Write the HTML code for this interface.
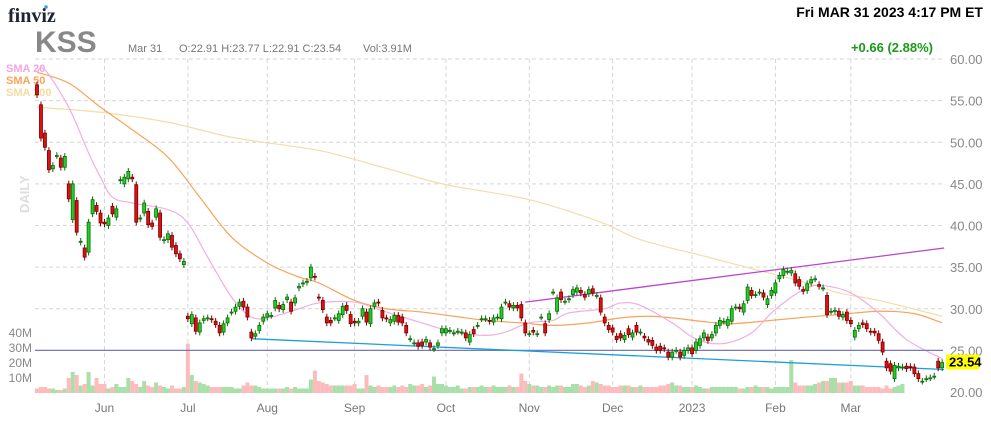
<!DOCTYPE html>
<html><head><meta charset="utf-8"><style>
html,body{margin:0;padding:0;background:#fff;width:991px;height:422px;overflow:hidden;font-family:"Liberation Sans",sans-serif}
svg{position:absolute;left:0;top:0}
</style></head><body>
<svg id="chart" width="991" height="422" viewBox="0 0 991 422">
  <text x="8" y="22" font-family="Liberation Serif" font-weight="bold" font-size="20" fill="#1f2433">finviz</text>
  <circle cx="46" cy="7" r="1.8" fill="#3aa0e8"/>
  <text x="983" y="17" text-anchor="end" font-weight="bold" font-size="14" fill="#000">Fri MAR 31 2023 4:17 PM ET</text>
  <text x="35" y="52" font-weight="bold" font-size="30" fill="#888">KSS</text>
  <text x="128" y="52" font-size="11" fill="#777">Mar 31</text>
  <text x="179" y="52" font-size="11" fill="#777">O:22.91  H:23.77  L:22.91  C:23.54</text>
  <text x="363" y="52" font-size="11" fill="#777">Vol:3.91M</text>
  <text x="933" y="52" text-anchor="end" font-weight="bold" font-size="13" fill="#1a9a1a">+0.66 (2.88%)</text>
  <text x="6" y="72" font-weight="bold" font-size="11" fill="#f4a6e0">SMA 20</text>
  <text x="6" y="84" font-weight="bold" font-size="11" fill="#f9a35a">SMA 50</text>
  <text x="6" y="96" font-weight="bold" font-size="11" fill="#f4dba0">SMA 200</text>
  <text transform="translate(29,213) rotate(-90)" font-weight="bold" font-size="13" fill="#ddd">DAILY</text>
  <g id="grid"></g><g id="vol"></g><g id="smas"></g><g id="lines"></g><g id="candles"></g><g id="axes"></g>
</svg>
<script>
const opens=[56.9,54.5,51.1,49,46.8,48.4,48.1,47,45,40.7,43,38,37.3,36.8,41.4,42.4,41.5,40.4,40,42.3,41,45.4,45,45.6,45.8,44.9,40.8,41.5,41.7,40.3,41,41.5,38.2,38.3,38.8,37.6,36.6,35.3,
29.1,28.2,28.9,27.2,28.6,28.9,28.8,28.5,28,27.2,28.3,29.6,29.7,30.3,30.9,30.2,27.2,26.7,27.4,28.5,29,29.2,30.1,30.4,29.9,31.1,30.8,30.7,32.5,33,33.2,33.7,33.9,31.4,31,29,28.6,28.9,28.6,29.3,30.4,29.3,28.5,28.3,29.1,29.6,28.2,30.3,30.8,29.8,28.9,28.3,28.5,29.2,29,28,26.4,25.9,25.9,26,26,25.9,25.2,25.6,
27.1,27.1,27.4,27.1,27.3,27.2,27.1,26,27.5,28,28.8,28.8,28.6,28.4,29,28.8,30.8,30.6,30.1,30.4,30.5,
28.3,27,27.4,27,29,28.2,28.7,32,29.7,32,30.9,31.1,31.7,32,32.2,31.7,31.8,32.4,31.6,
31.3,29,28,27.7,26.7,27,26.3,27.6,26.6,28,27.2,26.7,26.3,26.2,25.4,25.5,25.3,24.8,24.2,25,24.8,24.4,25,25.3,25,25.6,26.5,26.6,26.5,27.1,28,28.5,28,28.5,30.2,30.2,29.6,31,32.2,31.7,32,31.9,30.5,31.6,31.9,33.6,34,34.5,34.3,34.2,33.5,32.3,32.2,33.1,33.6,32.9,32.5,
31.6,29.7,29.7,29.7,29,29.6,28.6,26.6,27.6,28.3,28.2,27.3,27.3,27,26,23.7,23.4,21.6,22.9,23,23.1,23.05,23,22.2,21.3,21.6,21.7,21.9,23.7,22.91];
const closes=[55.7,50.5,49.4,46.7,47.2,48.4,47,48.3,43.2,45,39.2,38.1,36.2,40.4,43.1,41.7,40.3,40.2,40.9,41.4,42,45.5,45.8,46.5,45.6,40.4,40.9,42.7,40.1,39.9,42,38.6,38.3,39,37.4,36.6,36,35.7,
28.8,29.3,27.3,28.3,28.8,28.9,28.7,28.1,27.1,28.2,28.9,29.6,30.2,30.8,30.2,29,26.5,27,28,29,29.4,29.2,31,30,30.5,31.4,29.7,31.3,32.7,33.1,33.3,35,33.8,31.3,29.9,28.3,28.3,28.9,29.4,30.3,29.8,28.2,28.3,28.5,30,28.4,30,30.7,30.7,28.9,28.8,28.7,29.2,28.4,28.3,27.1,26.4,25.9,25.5,25.6,26.3,25.4,25.2,25.9,
27.6,27.6,27.4,27.1,27.3,27.2,26.5,26.9,27,28,28.8,28.8,28.5,28.9,29,30.2,30.8,30.2,30.4,30.1,28.9,
27.1,27,27.2,27,29,27.1,29.4,32,31.3,31.1,30.9,31.2,32.3,32.5,31.9,31.4,32.3,31.9,31.6,
29.6,28.3,27.5,27.2,26.3,26.5,26.8,26.9,27.1,27.2,27.2,26.5,26,25.6,25,25,25.2,24.2,24.8,25,24.2,25,25.3,24.6,26,26.4,27.1,26.2,26.9,28,28.6,28.5,28.7,30,30.2,30,30.6,32.6,31.6,31.7,32,31.4,31.2,32.2,33.1,34,34.7,34.5,34.6,33.1,32.7,32.1,33,33.5,33.6,32.7,32.5,
29.3,29.7,29.8,29.1,29.3,28.6,28.2,27.4,28,28.1,27.6,27.2,27.1,26.2,24.8,22.9,22.5,23.2,23.1,23,22.8,22.95,22.2,21.6,21.3,21.6,21.7,21.9,22.9,23.54];
const volumes=[3,4,4,3,3,2,2,3,10,14,12,5,6,14,5,10,6,6,3,4,6,4,4,10,8,6,4,8,5,4,7,5,4,3,5,3,3,4,33,12,
8,7,6,5,4,4,4,4,4,4,3,3,5,7,5,5,4,3,3,3,3,3,3,4,3,4,3,3,3,9,15,8,7,6,5,5,5,5,5,5,
6,3,3,12,5,4,5,4,4,4,5,4,5,4,6,5,5,6,4,5,11,6,6,5,4,4,5,3,3,4,4,4,5,4,4,5,4,4,4,5,
4,4,13,8,6,5,5,4,4,5,4,5,5,4,4,6,6,5,4,5,8,7,6,5,5,4,4,5,5,5,4,4,5,4,4,4,4,5,5,6,
7,5,5,4,4,4,5,4,3,3,4,4,4,4,4,4,4,3,3,4,4,5,4,4,4,3,4,4,4,4,22,7,5,5,5,5,6,7,8,8,
10,10,7,7,7,8,5,5,5,4,4,4,4,3,5,3,4,5,6];
const sma20Idx=[0,2,8,13,16,19,24,33,38,43,49,54,59,66,71,80,88,97,105,113,118,122,125,130,134,143,147,152,160,165,169,174,180,185,190,194,198,205,212,219,228];
const sma20Val=[58.4,58.7,54.2,48.7,45.8,43.4,42.7,41.9,40.3,36.2,31.4,29,29,30,30.7,30.8,29.6,28.3,27.2,26.8,27.2,28,28.4,28.6,29.5,30,30.7,30.4,28.3,26.6,25.9,25.9,27.1,29.5,31.4,32.5,32.8,31.9,29.5,26.3,24.0];
const sma50Idx=[0,8,16,24,33,41,49,58,66,71,80,88,97,105,113,122,130,139,147,154,160,169,175,185,194,202,212,221,228];
const sma50Val=[58.4,57.1,54.2,51.5,48.2,43.4,38.6,35.5,33.8,33.1,31,30,29.6,29.1,28.6,28.3,28,28.3,28.9,29.1,28.9,28.4,28.2,28.6,29,29.3,29.7,29.4,28.3];
const sma200Idx=[0,16,33,49,66,74,90,103,124,142,152,169,181,194,202,212,228];
const sma200Val=[54.2,53.6,52.4,50.6,49.4,48.7,46.6,44.9,43.1,40.4,38.3,36.2,34.7,33.1,31.9,31,29.1];
const priceTicks=[60,55,50,45,40,35,30,25,20];
const volTicks=[40,30,20,10];
const monthLabels=['Jun','Jul','Aug','Sep','Oct','Nov','Dec','2023','Feb','Mar'];
const monthIdx=[17,38,58,80,103,124,145,165,186,205];
const resistStart=[123,30.8], resistEnd=[228.5,37.3];
const supportStart=[54,26.4], supportEnd=[228.5,22.7];
const hLevel=25;

const NS='http://www.w3.org/2000/svg';
const X=i=>37+i*3.97;
const Y=p=>59+(60-p)*8.325;
const VY=v=>393-v*1.5;
function mk(parent,tag,attrs){const e=document.createElementNS(NS,tag);for(const k in attrs)e.setAttribute(k,attrs[k]);document.getElementById(parent).appendChild(e);return e;}

priceTicks.forEach(p=>{
  if(p!==hLevel&&p!==20){const g=mk('grid','line',{x1:35,x2:943,y1:Y(p),y2:Y(p),stroke:'#d6d6d6','stroke-dasharray':'4,3'});
  
  }
  const t=mk('axes','text',{x:950,y:Y(p)+5,'font-size':13,fill:'#888'});t.textContent=p.toFixed(2);
  
  
});
monthIdx.forEach((m,k)=>{
  const g=mk('grid','line',{x1:X(m),x2:X(m),y1:59,y2:395,stroke:'#d6d6d6','stroke-dasharray':'4,3'});
  
  
  const t=mk('axes','text',{x:X(m),y:412,'font-size':12,fill:'#777','text-anchor':'middle'});t.textContent=monthLabels[k];
  
  
});
volTicks.forEach(v=>{
  const t=mk('axes','text',{x:32,y:VY(v)+4,'font-size':12,fill:'#888','text-anchor':'end'});t.textContent=v+'M';
  
  
});
volumes.forEach((v,i)=>{
  const up=closes[i]>=opens[i];
  const r=mk('vol','rect',{x:X(i)-2,y:VY(v),width:4,height:393-VY(v),fill:up?'#a9dfa9':'#fdbcbc'});
  
  
});
function sma(idx,val,color,name){
  const P=idx.map((d,k)=>[X(d),Y(val[k])]);
  let d='M'+P[0][0]+','+P[0][1];
  for(let k=0;k<P.length-1;k++){
    const p0=P[Math.max(0,k-1)],p1=P[k],p2=P[k+1],p3=P[Math.min(P.length-1,k+2)];
    const c1=[p1[0]+(p2[0]-p0[0])/6,p1[1]+(p2[1]-p0[1])/6],c2=[p2[0]-(p3[0]-p1[0])/6,p2[1]-(p3[1]-p1[1])/6];
    d+=' C'+c1+' '+c2+' '+p2;
  }
  const l=mk('smas','path',{d:d,fill:'none',stroke:color,'stroke-width':1.2});
  
  
}
sma(sma200Idx,sma200Val,'#f5dca8','sma200-line');
sma(sma50Idx,sma50Val,'#f9a35a','sma50-line');
sma(sma20Idx,sma20Val,'#f2aee0','sma20-line');
const hl=mk('lines','line',{x1:35,x2:943,y1:Y(hLevel),y2:Y(hLevel),stroke:'#7777bb','stroke-width':1.2});


const rl=mk('lines','line',{x1:X(resistStart[0]),y1:Y(resistStart[1]),x2:X(resistEnd[0]),y2:Y(resistEnd[1]),stroke:'#bb44cc','stroke-width':1.3});


const sl=mk('lines','line',{x1:X(supportStart[0]),y1:Y(supportStart[1]),x2:X(supportEnd[0]),y2:Y(supportEnd[1]),stroke:'#1a9ee0','stroke-width':1.3});


opens.forEach((o,i)=>{
  const c=closes[i],up=c>=o,x=X(i);
  const hi=Math.max(o,c)+0.4,lo=Math.min(o,c)-0.4;
  const w=mk('candles','line',{x1:x,x2:x,y1:Y(hi),y2:Y(lo),stroke:up?'#0a6b0a':'#7a0000','stroke-width':1});
  
  
  const top=Y(Math.max(o,c)),h=Math.max(1,Y(Math.min(o,c))-top);
  const b=mk('candles','rect',{x:x-1.5,y:top,width:3,height:h,fill:up?'#22d022':'#e01010',stroke:up?'#0a6b0a':'#7a0000','stroke-width':0.8});
  
  
});
const last=closes[closes.length-1];
const tag=mk('axes','rect',{x:946,y:Y(last)-8,width:33,height:15,fill:'#ffff00'});


const tt=mk('axes','text',{x:949,y:Y(last)+4,'font-size':13,'font-weight':'bold',fill:'#000'});tt.textContent=last.toFixed(2);


</script>
</body></html>
